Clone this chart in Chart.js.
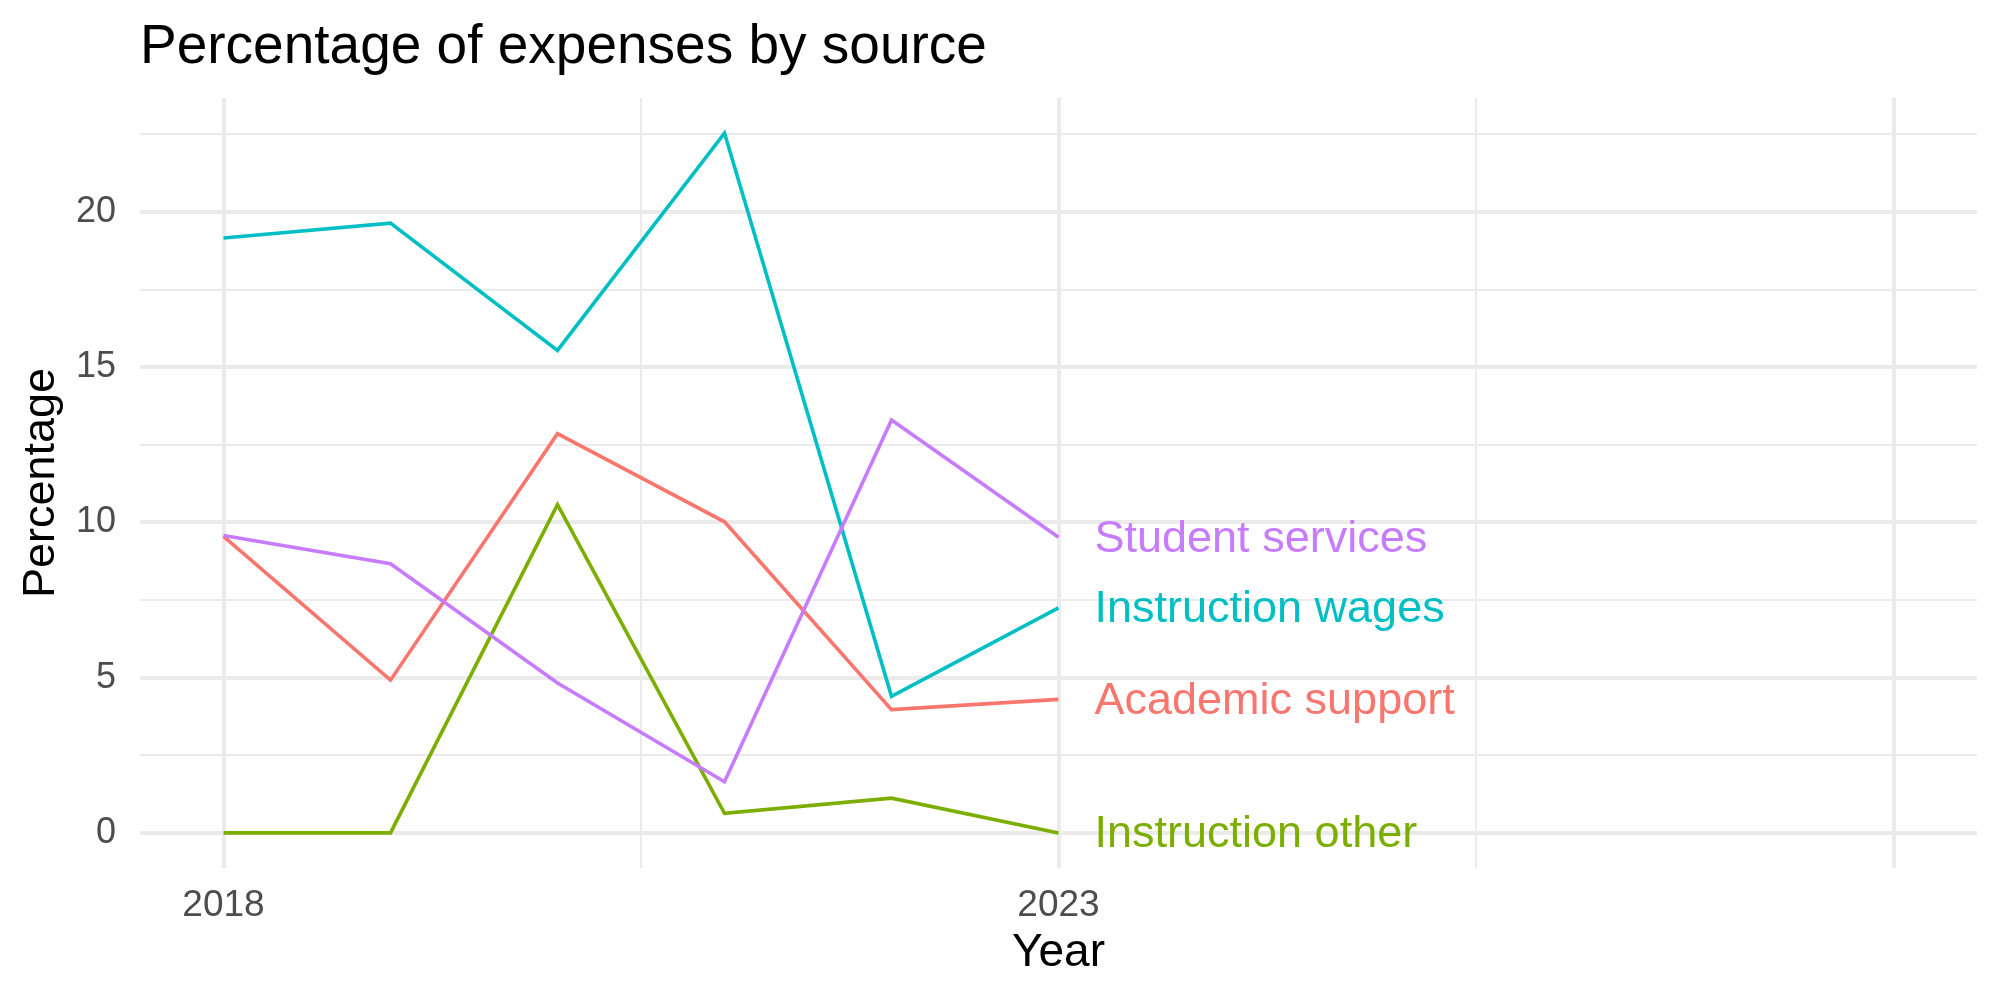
<!DOCTYPE html>
<html>
<head>
<meta charset="utf-8">
<title>Percentage of expenses by source</title>
<script src="https://cdn.jsdelivr.net/npm/chart.js@4.4.0/dist/chart.umd.min.js"></script>
<style>
  html, body { margin: 0; padding: 0; background: #ffffff; }
  #wrap { width: 2000px; height: 1000px; }
</style>
</head>
<body>
<div id="wrap"><canvas id="chart" width="2000" height="1000"></canvas></div>
<script>
/*===== DATA =====*/
const years = [2018, 2019, 2020, 2021, 2022, 2023];
const seriesNames = ["Academic support", "Instruction other", "Instruction wages", "Student services"];
const academicSupport = [9.55, 4.92, 12.86, 10.02, 3.97, 4.30];
const instructionOther = [0, 0, 10.57, 0.63, 1.12, 0];
const instructionWages = [19.16, 19.64, 15.54, 22.54, 4.40, 7.25];
const studentServices = [9.58, 8.67, 4.83, 1.65, 13.30, 9.52];

const xTickLabels = [2018, 2023];
const xGridValues = [2018, 2020.5, 2023, 2025.5, 2028];
const yTickLabels = [0, 5, 10, 15, 20];
const yGridValues = [0, 2.5, 5, 7.5, 10, 12.5, 15, 17.5, 20, 22.5];

const colors = ["#F8766D", "#7CAE00", "#00BFC4", "#C77CFF"];
const FONT = "'Liberation Sans', Arial, Helvetica, sans-serif";

/*===== DATASETS =====*/
const allValues = [academicSupport, instructionOther, instructionWages, studentServices];

const datasets = seriesNames.map((name, i) => ({
  label: name,
  data: years.map((yr, j) => ({ x: yr, y: allValues[i][j] })),
  borderColor: colors[i],
  backgroundColor: colors[i],
  borderWidth: 3.6,
  pointRadius: 0,
  tension: 0,
  fill: false,
  order: seriesNames.length - i, // last series on top, like ggplot
}));

/*===== TEXT PLUGIN (title, axis titles, end labels) =====*/
const textPlugin = {
  id: "textPlugin",
  afterDatasetsDraw(chart) {
    const ctx = chart.ctx;
    const xs = chart.scales.x;
    const ys = chart.scales.y;

    ctx.save();
    // end-of-line labels
    ctx.font = "45px " + FONT;
    ctx.textAlign = "left";
    ctx.textBaseline = "middle";
    chart.data.datasets.forEach((ds) => {
      const last = ds.data[ds.data.length - 1];
      const px = xs.getPixelForValue(last.x) + 36;
      const py = ys.getPixelForValue(last.y);
      ctx.fillStyle = ds.borderColor;
      ctx.fillText(ds.label, px, py + 2);
    });
    ctx.restore();
  },
  afterDraw(chart) {
    const ctx = chart.ctx;
    const area = chart.chartArea;
    ctx.save();
    ctx.fillStyle = "#000000";

    // title
    ctx.font = "55px " + FONT;
    ctx.textAlign = "left";
    ctx.textBaseline = "alphabetic";
    ctx.fillText("Percentage of expenses by source", area.left, 63);

    // x axis title
    ctx.font = "46px " + FONT;
    ctx.textAlign = "center";
    ctx.textBaseline = "middle";
    ctx.fillText("Year", (area.left + area.right) / 2, 953);

    // y axis title
    ctx.font = "45px " + FONT;
    ctx.translate(42, (area.top + area.bottom) / 2);
    ctx.rotate(-Math.PI / 2);
    ctx.fillText("Percentage", 0, 0);
    ctx.restore();
  },
};

/*===== CHART =====*/
const ctx = document.getElementById("chart").getContext("2d");

const chart = new Chart(ctx, {
  type: "line",
  data: { datasets: datasets },
  options: {
    responsive: false,
    animation: false,
    devicePixelRatio: 1,
    layout: { padding: { top: 98, right: 23, left: 0, bottom: 0 } },
    plugins: {
      legend: { display: false },
      title: { display: false },
      tooltip: { enabled: false },
    },
    scales: {
      x: {
        type: "linear",
        min: 2017.5,
        max: 2028.5,
        afterBuildTicks: (axis) => {
          axis.ticks = xGridValues.map((v) => ({ value: v }));
        },
        afterFit: (axis) => {
          axis.height = 132;
        },
        ticks: {
          autoSkip: false,
          maxRotation: 0,
          padding: 16,
          color: "#4D4D4D",
          font: { family: FONT, size: 37 },
          callback: (v) => (xTickLabels.includes(v) ? String(v) : ""),
        },
        grid: {
          color: "#EBEBEB",
          drawTicks: false,
          lineWidth: (c) => (c.tick && xTickLabels.concat([2028]).includes(c.tick.value) ? 4 : 2),
        },
        border: { display: false },
      },
      y: {
        type: "linear",
        min: -1.13,
        max: 23.67,
        afterBuildTicks: (axis) => {
          axis.ticks = yGridValues.map((v) => ({ value: v }));
        },
        afterFit: (axis) => {
          axis.width = 140;
        },
        ticks: {
          autoSkip: false,
          padding: 24,
          color: "#4D4D4D",
          font: { family: FONT, size: 36 },
          callback: (v) => (yTickLabels.includes(v) ? String(v) : ""),
        },
        grid: {
          color: "#EBEBEB",
          drawTicks: false,
          lineWidth: (c) => (c.tick && yTickLabels.includes(c.tick.value) ? 4 : 2),
        },
        border: { display: false },
      },
    },
  },
  plugins: [textPlugin],
});
</script>
</body>
</html>
